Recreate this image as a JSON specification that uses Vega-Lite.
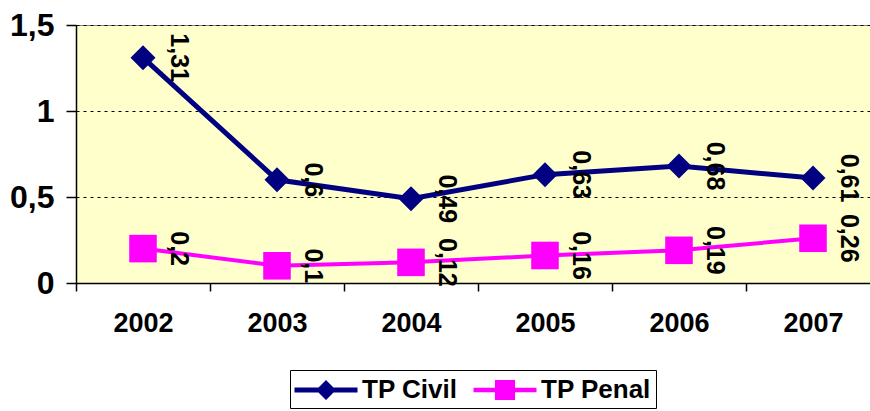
{
  "$schema": "https://vega.github.io/schema/vega-lite/v6.json",
  "width": 794,
  "height": 258,
  "autosize": {"type": "none"},
  "padding": {"left": 76, "top": 25, "right": 0, "bottom": 128},
  "background": "white",
  "config": {
    "font": "Liberation Sans",
    "view": {"fill": "#FFFFCC", "stroke": "#808080", "strokeWidth": 1},
    "locale": {"number": {"decimal": ",", "thousands": ".", "grouping": [3], "currency": ["", " €"]}}
  },
  "data": {
    "values": [
      {"year": "2002", "serie": "TP Civil", "value": 1.31},
      {"year": "2003", "serie": "TP Civil", "value": 0.6},
      {"year": "2004", "serie": "TP Civil", "value": 0.49},
      {"year": "2005", "serie": "TP Civil", "value": 0.63},
      {"year": "2006", "serie": "TP Civil", "value": 0.68},
      {"year": "2007", "serie": "TP Civil", "value": 0.61},
      {"year": "2002", "serie": "TP Penal", "value": 0.2},
      {"year": "2003", "serie": "TP Penal", "value": 0.1},
      {"year": "2004", "serie": "TP Penal", "value": 0.12},
      {"year": "2005", "serie": "TP Penal", "value": 0.16},
      {"year": "2006", "serie": "TP Penal", "value": 0.19},
      {"year": "2007", "serie": "TP Penal", "value": 0.26}
    ]
  },
  "encoding": {
    "x": {
      "field": "year", "type": "ordinal",
      "scale": {"type": "band", "paddingInner": 0, "paddingOuter": 0, "range": [0, 804]},
      "axis": {
        "title": null, "labelAngle": 0, "tickBand": "extent", "tickSize": 8, "tickColor": "black", "tickWidth": 1.5,
        "domainColor": "black", "domainWidth": 1.5, "labelFontSize": 27, "labelFontWeight": "bold",
        "labelColor": "black", "labelPadding": 19, "grid": false
      }
    },
    "y": {
      "field": "value", "type": "quantitative",
      "scale": {"domain": [0, 1.5], "nice": false, "zero": true},
      "axis": {
        "title": null, "values": [0, 0.5, 1, 1.5], "format": "~g", "tickSize": 10, "tickColor": "black", "tickWidth": 1.5,
        "domainColor": "black", "domainWidth": 1.5, "labelFontSize": 32, "labelFontWeight": "bold",
        "labelColor": "black", "labelPadding": 12, "grid": true, "gridColor": "black", "gridDash": [3, 4], "gridWidth": 1.2
      }
    },
    "color": {
      "field": "serie", "type": "nominal",
      "scale": {"domain": ["TP Civil", "TP Penal"], "range": ["#000080", "#FF00FF"]},
      "legend": {
        "orient": "none", "legendX": 214, "legendY": 345, "direction": "horizontal", "title": null,
        "labelFontSize": 26, "labelFontWeight": "bold", "labelColor": "black", "labelFont": "Liberation Sans",
        "symbolSize": 900, "strokeColor": "black", "padding": 5, "columnPadding": 15, "labelOffset": 21,
        "symbolOffset": 16, "symbolStrokeWidth": 0,
        "encode": {
          "symbols": {
            "update": {
              "shape": {"signal": "datum.value === 'TP Civil' ? 'M-2.1,-0.17L-0.5,-0.17L0,-0.67L0.5,-0.17L2.1,-0.17L2.1,0.17L0.5,0.17L0,0.67L-0.5,0.17L-2.1,0.17Z' : 'M-2.1,-0.15L-0.67,-0.15L-0.67,-0.67L0.67,-0.67L0.67,-0.15L2.1,-0.15L2.1,0.15L0.67,0.15L0.67,0.67L-0.67,0.67L-0.67,0.15L-2.1,0.15Z'"},
              "fill": {"signal": "datum.value === 'TP Civil' ? '#000080' : '#FF00FF'"},
              "stroke": {"value": "transparent"},
              "strokeWidth": {"value": 0},
              "opacity": {"value": 1},
              "fillOpacity": {"value": 1},
              "size": {"value": 900}
            }
          }
        }
      }
    }
  },
  "layer": [
    {
      "mark": {"type": "line"},
      "encoding": {
        "strokeWidth": {"condition": {"test": "datum.serie === 'TP Civil'", "value": 5}, "value": 4}
      }
    },
    {
      "mark": {"type": "point", "filled": true, "opacity": 1},
      "encoding": {
        "shape": {"condition": {"test": "datum.serie === 'TP Civil'", "value": "diamond"}, "value": "square"},
        "size": {"condition": {"test": "datum.serie === 'TP Civil'", "value": 625}, "value": 760}
      }
    },
    {
      "mark": {"type": "text", "angle": 90, "dy": -36, "align": "center", "baseline": "middle", "fontSize": 25, "fontWeight": "bold", "font": "Liberation Sans"},
      "encoding": {
        "text": {"field": "value", "type": "quantitative", "format": "~g"},
        "color": {"value": "black"}
      }
    }
  ]
}
